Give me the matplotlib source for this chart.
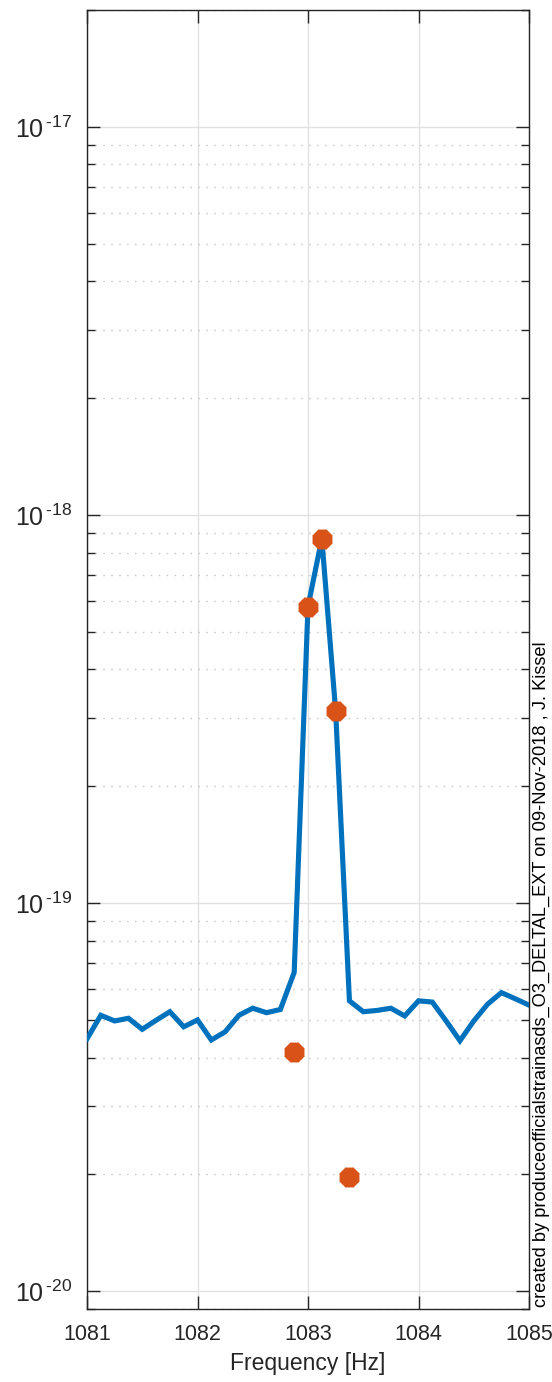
import numpy as np
import matplotlib
matplotlib.use("Agg")
import matplotlib.pyplot as plt
from matplotlib.ticker import FixedLocator, FixedFormatter, NullFormatter

plt.rcParams['font.family'] = ['Liberation Sans', 'DejaVu Sans']
plt.rcParams['mathtext.fontset'] = 'custom'
plt.rcParams['mathtext.rm'] = 'Liberation Sans'
plt.rcParams['mathtext.it'] = 'Liberation Sans:italic'
plt.rcParams['mathtext.bf'] = 'Liberation Sans:bold'
plt.rcParams['mathtext.default'] = 'regular'

# ---------------- data ----------------
freq_hz = [1081.0, 1081.125, 1081.25, 1081.375, 1081.5, 1081.625, 1081.75, 1081.875,
           1082.0, 1082.125, 1082.25, 1082.375, 1082.5, 1082.625, 1082.75, 1082.875,
           1083.0, 1083.125, 1083.25, 1083.375, 1083.5, 1083.625, 1083.75, 1083.875,
           1084.0, 1084.125, 1084.25, 1084.375, 1084.5, 1084.625, 1084.75, 1084.875,
           1085.0]
asd_values = [4.47e-20, 5.14e-20, 4.97e-20, 5.05e-20, 4.73e-20, 4.99e-20, 5.25e-20, 4.80e-20,
              5.00e-20, 4.44e-20, 4.66e-20, 5.14e-20, 5.36e-20, 5.22e-20, 5.32e-20, 6.63e-20,
              5.81e-19, 8.69e-19, 3.13e-19, 5.60e-20, 5.25e-20, 5.29e-20, 5.36e-20, 5.12e-20,
              5.60e-20, 5.56e-20, 4.97e-20, 4.42e-20, 4.97e-20, 5.49e-20, 5.88e-20, 5.67e-20,
              5.46e-20]
marker_freq_hz = [1082.875, 1083.0, 1083.125, 1083.25, 1083.375]
marker_values = [4.13e-20, 5.81e-19, 8.69e-19, 3.13e-19, 1.97e-20]

x_ticks = [1081, 1082, 1083, 1084, 1085]
x_tick_labels = ['1081', '1082', '1083', '1084', '1085']
y_tick_exponents = [-20, -19, -18, -17]
y_tick_labels = [r'$10^{\,\text{-}20}$', r'$10^{\,\text{-}19}$',
                 r'$10^{\,\text{-}18}$', r'$10^{\,\text{-}17}$']
y_limits = (9e-21, 2e-17)
x_limits = (1081, 1085)
x_label = 'Frequency [Hz]'
credit_text = 'created by produceofficialstrainasds_O3_DELTAL_EXT on 09-Nov-2018 , J. Kissel'

# ---------------- figure ----------------
W, H = 552, 1382
fig = plt.figure(figsize=(W / 100, H / 100), dpi=100)
ax = fig.add_axes([87 / W, 1 - 1309 / H, (529 - 87) / W, (1309 - 10) / H])

blue = '#0072BD'
orange = '#D95319'
dark = '#262626'

ax.plot(freq_hz, asd_values, color=blue, lw=3.7, solid_joinstyle='miter', zorder=3)
ax.plot(marker_freq_hz, marker_values, linestyle='none', marker=(8, 2, 0),
        markersize=14, markeredgewidth=6, color=orange, markeredgecolor=orange, zorder=4)

ax.set_yscale('log')
ax.set_xlim(*x_limits)
ax.set_ylim(*y_limits)

ax.xaxis.set_major_locator(FixedLocator(x_ticks))
ax.xaxis.set_major_formatter(FixedFormatter(x_tick_labels))

major_y = [10.0 ** e for e in y_tick_exponents]
minor_y = [m * 10.0 ** e for e in [-21] + y_tick_exponents for m in range(2, 10)]
minor_y = [v for v in minor_y if y_limits[0] <= v <= y_limits[1]]
ax.yaxis.set_major_locator(FixedLocator(major_y))
ax.yaxis.set_major_formatter(FixedFormatter(y_tick_labels))
ax.yaxis.set_minor_locator(FixedLocator(minor_y))
ax.yaxis.set_minor_formatter(NullFormatter())

for s in ax.spines.values():
    s.set_color(dark)
    s.set_linewidth(1.0)

ax.tick_params(axis='both', which='both', direction='in', top=True, right=True,
               colors=dark, labelcolor=dark)
ax.tick_params(axis='x', which='major', labelsize=15.5, pad=11)
ax.tick_params(axis='y', which='major', labelsize=18, pad=11)
ax.tick_params(axis='both', which='major', length=9.5, width=1.0)
ax.tick_params(axis='y', which='minor', length=5.5, width=1.0)

ax.grid(True, which='major', axis='both', color='#e1e1e1', lw=1.0, zorder=0)
ax.grid(True, which='minor', axis='y', color='#c8c8c8', lw=1.0,
        linestyle=(0, (1.1, 4.6)), zorder=0)
ax.set_axisbelow(True)

ax.set_xlabel(x_label, fontsize=16.5, color=dark, labelpad=5)

# credit text on the right, sized to span the measured length
t = fig.text(541.5 / W, 1 - 1307 / H, credit_text, rotation=90, ha='center', va='bottom',
             fontsize=13, color='black')
fig.canvas.draw()
bb = t.get_window_extent(renderer=fig.canvas.get_renderer())
target = 1307 - 641
t.set_fontsize(13 * target / bb.height)

fig.savefig('out.png', dpi=100)
